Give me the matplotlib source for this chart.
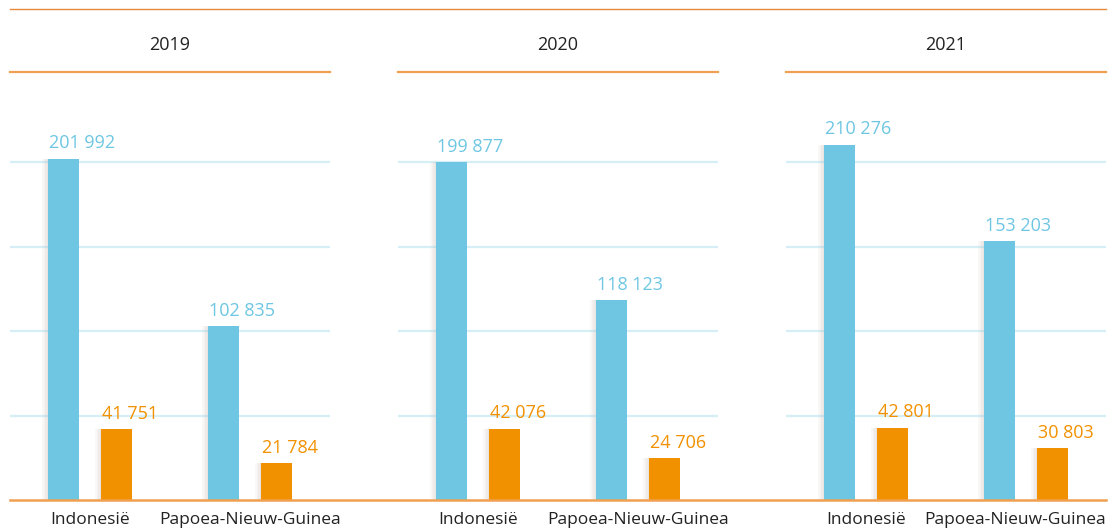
import matplotlib.pyplot as plt
from matplotlib.lines import Line2D
import matplotlib.patheffects as pe

# ----------------------------
# Data
# ----------------------------
years = ["2019", "2020", "2021"]
countries = ["Indonesië", "Papoea-Nieuw-Guinea"]
blue_values = [[201992, 102835], [199877, 118123], [210276, 153203]]
orange_values = [[41751, 21784], [42076, 24706], [42801, 30803]]
grid_ticks = [50000, 100000, 150000, 200000]

# ----------------------------
# Style
# ----------------------------
BLUE = "#6ec6e3"
ORANGE = "#f29100"
LINE_ORANGE = "#f0a050"
TEXT = "#222222"

plt.rcParams["font.family"] = ["Open Sans", "DejaVu Sans"]

W, H = 1111, 529
fig = plt.figure(figsize=(W / 100, H / 100), dpi=100)


def fx(px):
    return px / W


def fy(py):
    return 1 - py / H


BASE_Y = 500
TOP_Y = 72
PX_PER_50K = 84.5
ymax = (BASE_Y - TOP_Y) * 50000 / PX_PER_50K

bar_w = 31 / 160
offset = 26.5 / 160

# top line
fig.add_artist(Line2D([fx(10), fx(1106)], [fy(9), fy(9)], color="#e8883a", lw=1.0))

for i, year in enumerate(years):
    x0 = 10 + 388 * i
    ax = fig.add_axes([fx(x0), fy(BASE_Y), 320 / W, (BASE_Y - TOP_Y) / H])
    ax.set_xlim(-0.5, 1.5)
    ax.set_ylim(0, ymax)
    for s in ["left", "right", "bottom"]:
        ax.spines[s].set_visible(False)
    ax.spines["top"].set_color(LINE_ORANGE)
    ax.spines["top"].set_linewidth(1.6)
    ax.set_xticks([])
    ax.set_yticks([])

    # grid drawn over the bars, semi transparent
    for g in grid_ticks:
        ax.axhline(g, color=BLUE, lw=1.6, alpha=0.28, zorder=3)

    # soft shadow on the left of the bars
    shadow = [pe.SimplePatchShadow(offset=(-k, 0), shadow_rgbFace="#8a6a5a", alpha=0.045)
              for k in (1, 2, 3, 4)] + [pe.Normal()]
    xs = list(range(len(countries)))
    bx = [x - offset for x in xs]
    ox = [x + offset for x in xs]
    bars_b = ax.bar(bx, blue_values[i], width=bar_w, color=BLUE, zorder=2)
    bars_o = ax.bar(ox, orange_values[i], width=bar_w, color=ORANGE, zorder=2)
    for b in list(bars_b) + list(bars_o):
        b.set_path_effects(shadow)

    for x, v in zip(bx, blue_values[i]):
        ax.annotate(f"{v:,}".replace(",", " "), (x - bar_w / 2, v), xytext=(1, 7.5),
                    textcoords="offset points", ha="left", va="baseline",
                    color=BLUE, fontsize=13, annotation_clip=False)
    for x, v in zip(ox, orange_values[i]):
        ax.annotate(f"{v:,}".replace(",", " "), (x - bar_w / 2, v), xytext=(1, 7.5),
                    textcoords="offset points", ha="left", va="baseline",
                    color=ORANGE, fontsize=13, annotation_clip=False)

    for j, (x, name) in enumerate(zip(xs, countries)):
        # last label is pushed left so it fits in the picture
        dx = -8 if (i == len(years) - 1 and j == len(countries) - 1) else 0
        ax.annotate(name, (x, 0), xytext=(dx, -9), textcoords="offset points",
                    ha="center", va="top", color=TEXT, fontsize=12.5,
                    annotation_clip=False)

    fig.text(fx(x0 + 160), fy(45), year, ha="center", va="center",
             color=TEXT, fontsize=13)

# continuous baseline
fig.add_artist(Line2D([fx(10), fx(1106)], [fy(BASE_Y), fy(BASE_Y)], color=LINE_ORANGE, lw=1.8))

fig.savefig("out.png", dpi=100)
